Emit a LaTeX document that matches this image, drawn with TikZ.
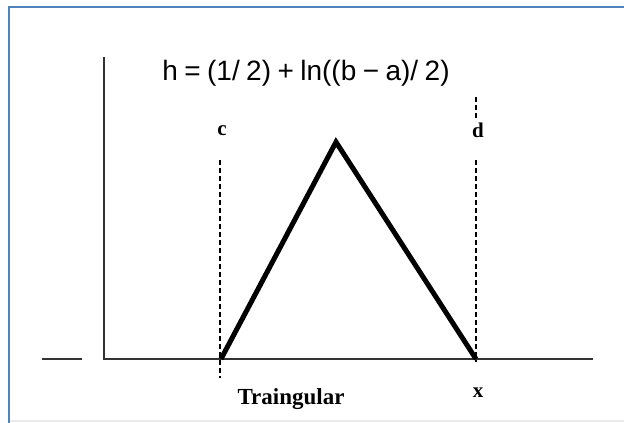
\documentclass[tikz,border=0pt]{standalone}
\usepackage{fontspec}
\setmainfont{Liberation Serif}
\newfontfamily\formulafont{Liberation Sans}
\usetikzlibrary{positioning,calc}
\definecolor{frameblue}{HTML}{4F81BD}
\definecolor{axisgray}{HTML}{333333}
\tikzset{
  mf/frame/.style={draw=frameblue, line width=2.5pt},
  mf/axis/.style={draw=axisgray, line width=1.8pt},
  mf/guide/.style={draw=black, line width=1.2pt, dash pattern=on 5pt off 3pt},
  mf/shape/.style={draw=black, line width=5pt, line join=miter},
  mf/tag/.style={font=\fontsize{21}{24}\selectfont\bfseries, inner sep=1pt},
  mf/title/.style={font=\fontsize{28}{32}\formulafont, inner sep=0pt},
  mf/caption/.style={font=\fontsize{23}{26}\selectfont\bfseries, inner sep=0pt}
}

\begin{document}
\begin{tikzpicture}[x=1pt, y=-1pt]
  \useasboundingbox (0,0) rectangle (624,423);

  % Frame round the figure
  \draw[draw=black!8, line width=1.5pt] (10,421) -- (624,421);
  \draw[mf/frame] (9,423) -- (9,7) -- (624,7);

  % Axes
  \coordinate (origin) at (104,359);
  \coordinate (ytop) at (104,57);
  \coordinate (xend) at (593,359);
  \coordinate (tickl) at (42,359);
  \coordinate (tickr) at (82,359);
  \draw[mf/axis] (ytop) -- (origin) -- (xend);
  \draw[mf/axis] (tickl) -- (tickr);

  % Triangle
  \coordinate (left) at (221,359);
  \coordinate (apex) at (336,142);
  \coordinate (right) at (476,359);
  \draw[mf/shape] (left) -- (apex) -- (right);

  % Support limits c and d
  \node[mf/tag] (c) at (222,131) {c};
  \node[mf/tag] (d) at (478,130) {d};
  \coordinate (ctop) at (220,160);
  \coordinate (cbot) at (220,378);
  \coordinate (dtop) at (476,97);
  \coordinate (dmid) at (476,118);
  \coordinate (dlow) at (476,160);
  \coordinate (dbot) at (476,362);
  \draw[mf/guide] (ctop) -- (cbot);
  \draw[mf/guide] (dtop) -- (dmid);
  \draw[mf/guide] (dlow) -- (dbot);

  % Texts
  \node[mf/title] (h) at (306,73) {\spaceskip=0.23em h = (1/ 2) + ln((b − a)/ 2)};
  \node[mf/caption] (name) at (291,399) {Traingular};
  \node[mf/tag] (xlab) at (478,393) {x};
\end{tikzpicture}
\end{document}
